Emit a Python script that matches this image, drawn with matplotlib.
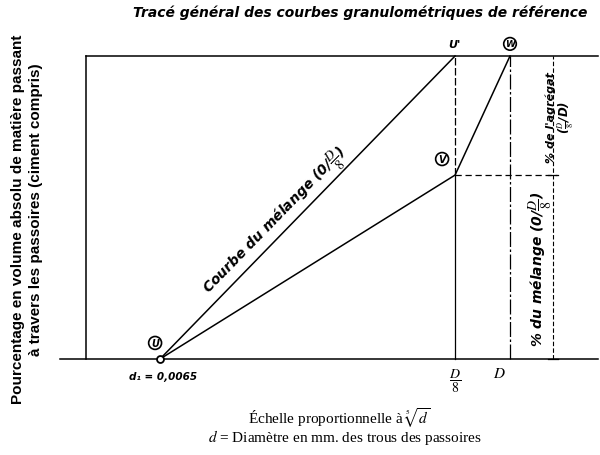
import numpy as np
import matplotlib
matplotlib.use("Agg")
import matplotlib.pyplot as plt

# sieve positions on the fifth-root scale (d1 -> 0, D -> 1)
sieve_labels = ["d₁ = 0,0065", r"$\dfrac{D}{8}$", r"$D$"]
sieve_pos = [0.0, 0.843, 1.0]

# mix curve 0/(D/8): from U to U'
mix_x = [0.0, 0.843]
mix_y = [0.0, 100.0]

# reference curve U -> V -> W
ref_x = [0.0, 0.843, 1.0]
ref_y = [0.0, 60.7, 100.0]
point_names = ["U", "V", "W"]

plt.rcParams["mathtext.fontset"] = "stix"
hand = dict(family="DejaVu Sans", style="italic", weight="bold")
serif = dict(family="Liberation Serif")

fig = plt.figure(figsize=(6, 4.56), dpi=100)
ax = fig.add_axes([0, 0, 1, 1])
# 350 px per scale unit, 3.03 px per percent
ax.set_xlim(-160 / 350, 440 / 350)
ax.set_ylim(-96 / 3.03, 360 / 3.03)
ax.axis("off")

lw = 1.1
left, right = -0.211, 1.251
ax.plot([left, right], [100, 100], color="black", lw=lw, clip_on=False)
ax.plot([left, left], [0, 100], color="black", lw=lw)
ax.plot([-0.286, right], [0, 0], color="black", lw=lw)

# verticals at D/8 and D
ax.plot([sieve_pos[1]] * 2, [ref_y[1], 100], color="black", lw=0.9, ls=(0, (6, 2)))
ax.plot([sieve_pos[1]] * 2, [0, ref_y[1]], color="black", lw=0.9)
ax.plot([sieve_pos[2]] * 2, [0, 100], color="black", lw=0.9, ls=(0, (12, 2, 2, 2)))

# curves
ax.plot(mix_x, mix_y, color="black", lw=lw)
ax.plot(ref_x, ref_y, color="black", lw=lw)
ax.plot(ref_x[0], ref_y[0], "o", mfc="white", mec="black", ms=5, mew=1.3)

# share of the mix / aggregate dimension line
dim_x = 1.123
ax.plot([sieve_pos[1], dim_x + 0.01], [ref_y[1]] * 2, color="black", lw=0.9, ls=(0, (5, 3)))
ax.plot([dim_x] * 2, [0, 100], color="black", lw=0.8, ls=(0, (4, 2)))
for yv in [0, ref_y[1]]:
    ax.plot([dim_x - 0.015, dim_x + 0.015], [yv, yv], color="black", lw=0.9)

circ = dict(boxstyle="circle,pad=0.15", fc="white", ec="black", lw=1.2)
ax.text(ref_x[0] - 0.014, ref_y[0] + 5.3, point_names[0], ha="center", va="center",
        fontsize=7, bbox=circ, **hand)
ax.text(ref_x[1] - 0.037, ref_y[1] + 5.3, point_names[1], ha="center", va="center",
        fontsize=7, bbox=circ, **hand)
ax.text(ref_x[2], 100 + 4.0, point_names[2], ha="center", va="center",
        fontsize=6.5, bbox=circ, **hand)
ax.text(mix_x[1] - 0.003, 100 + 4.0, "U'", ha="center", va="center", fontsize=8, **hand)

# sieve labels
ax.text(sieve_pos[0] + 0.01, -5.5, sieve_labels[0], ha="center", va="center",
        fontsize=7.5, **hand)
ax.text(sieve_pos[1], -7, sieve_labels[1], ha="center", va="center", fontsize=10)
ax.text(sieve_pos[2] - 0.03, -4.6, sieve_labels[2], ha="center", va="center",
        fontsize=11)

# label along the mix curve
p0 = ax.transData.transform((mix_x[0], mix_y[0]))
p1 = ax.transData.transform((mix_x[1], mix_y[1]))
ang = np.degrees(np.arctan2(p1[1] - p0[1], p1[0] - p0[0]))
ax.text(0.33, 45.5, r"Courbe du mélange (0/$\dfrac{D}{8}$)", rotation=ang,
        rotation_mode="anchor", ha="center", va="center", fontsize=10, **hand)

# right-hand vertical notes
ax.text(1.088, 30, r"% du mélange (0/$\dfrac{D}{8}$)", rotation=90, ha="center",
        va="center", fontsize=10, **hand)
ax.text(1.115, 80, "% de l'agrégat", rotation=90, ha="center", va="center",
        fontsize=8, **hand)
ax.text(1.163, 80, r"($\frac{D}{8}$/D)", rotation=90, ha="center", va="center",
        fontsize=8.5, **hand)

fig.text(0.6, 0.972, "Tracé général des courbes granulométriques de référence",
         ha="center", va="center", fontsize=10, **hand)

fig.text(0.03, 0.52, "Pourcentage en volume absolu de matière passant",
         rotation=90, ha="center", va="center", fontsize=11, weight="bold",
         family="Liberation Sans")
fig.text(0.06, 0.54, "à travers les passoires (ciment compris)",
         rotation=90, ha="center", va="center", fontsize=11, weight="bold",
         family="Liberation Sans")

fig.text(0.565, 0.083, r"Échelle proportionnelle à $\sqrt[5]{d}$",
         ha="center", va="center", fontsize=11, **serif)
fig.text(0.575, 0.041, r"$d$ = Diamètre en mm. des trous des passoires",
         ha="center", va="center", fontsize=11, **serif)

fig.savefig("out.png", dpi=100)
